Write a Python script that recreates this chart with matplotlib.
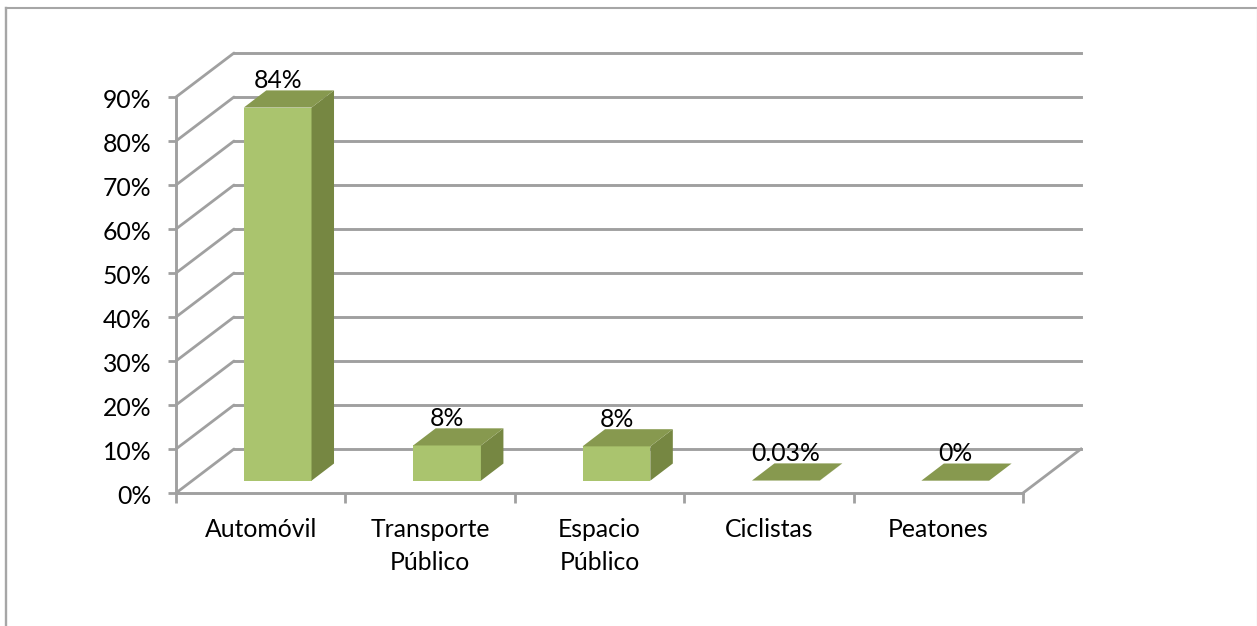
import matplotlib.pyplot as plt
from matplotlib.lines import Line2D
from matplotlib.patches import Polygon
from matplotlib.transforms import ScaledTranslation
import numpy as np

categorias = ['Automóvil', 'Transporte\nPúblico', 'Espacio\nPúblico', 'Ciclistas', 'Peatones']
valores = [84.8, 8.0, 7.8, 0.03, 0.0]
etiquetas = ['84%', '8%', '8%', '0.03%', '0%']
pct_ticks = [0, 10, 20, 30, 40, 50, 60, 70, 80, 90]

plt.rcParams['font.family'] = ['Lato', 'DejaVu Sans']

GRIS = '#a0a0a0'
FRENTE = '#aac46e'
TECHO = '#87994f'
LADO = '#768742'
LETRA = 17.8

W, H = 1257, 626
fig = plt.figure(figsize=(W / 100, H / 100), dpi=100)
ax = fig.add_axes([176 / W, (H - 493) / H, 847 / W, 396 / H])
ax.set_xlim(0, 5)
ax.set_ylim(0, 90)

# fake 3d: depth of the walls and of the bars, in data units
prof_x = 58 / 169.4
prof_y = 10
barra_dx = 22.5 / 169.4
barra_dy = 3.9
base = 2.8
ancho = 0.4

# walls
for p in pct_ticks:
    ax.plot([0, prof_x], [p, p + prof_y], color=GRIS, lw=2.0, clip_on=False, zorder=1, solid_capstyle='round')
    ax.plot([prof_x, 5 + prof_x], [p + prof_y, p + prof_y], color=GRIS, lw=2.1, clip_on=False, zorder=1)
ax.plot([5, 5 + prof_x], [0, prof_y], color=GRIS, lw=2.0, clip_on=False, zorder=1)

# bars
x = np.arange(len(valores)) + 0.4
ax.bar(x, valores, width=ancho, bottom=base, align='edge', color=FRENTE, clip_on=False, zorder=3)
for xi, v, txt in zip(x, valores, etiquetas):
    arriba = base + v
    techo = [(xi, arriba), (xi + ancho, arriba),
             (xi + ancho + barra_dx, arriba + barra_dy), (xi + barra_dx, arriba + barra_dy)]
    lado = [(xi + ancho, base), (xi + ancho + barra_dx, base + barra_dy),
            (xi + ancho + barra_dx, arriba + barra_dy), (xi + ancho, arriba)]
    ax.add_patch(Polygon(lado, closed=True, color=LADO, lw=0, clip_on=False, zorder=3))
    ax.add_patch(Polygon(techo, closed=True, color=TECHO, lw=0, clip_on=False, zorder=3))
    ax.text(xi + ancho / 2, arriba + 6.1, txt, ha='center', va='center', fontsize=LETRA, color='black', zorder=5)

for s in ['top', 'right']:
    ax.spines[s].set_visible(False)
for s in ['left', 'bottom']:
    ax.spines[s].set_color(GRIS)
    ax.spines[s].set_linewidth(2.1)
    ax.spines[s].set_zorder(2)

ax.set_yticks(pct_ticks)
ax.set_yticklabels([str(p) + '%' for p in pct_ticks])
ax.tick_params(axis='y', length=6, width=2.0, color=GRIS, pad=11.5, labelsize=LETRA)
# labels sit about 2px low in the original
for lab in ax.get_yticklabels():
    lab.set_transform(lab.get_transform() + ScaledTranslation(0, -2 / 100, fig.dpi_scale_trans))
ax.set_xticks(np.arange(6))
ax.set_xticklabels([])
ax.tick_params(axis='x', which='major', length=7, width=2.0, color=GRIS)
ax.set_xticks(np.arange(5) + 0.5, minor=True)
ax.set_xticklabels(categorias, minor=True, linespacing=1.5)
ax.tick_params(axis='x', which='minor', length=0, pad=18, labelsize=LETRA)

# chart area border, cut at the bottom of the picture
fig.add_artist(Line2D([5.5 / W, 5.5 / W], [0, (H - 7.5) / H], color='#a6a6a6', lw=1.7))
fig.add_artist(Line2D([5.5 / W, 1], [(H - 7.5) / H, (H - 7.5) / H], color='#a6a6a6', lw=1.5))
fig.add_artist(Line2D([1256.5 / W, 1256.5 / W], [0, (H - 7.5) / H], color='#e4e4e4', lw=1.0))

fig.savefig('out.png', dpi=100)
